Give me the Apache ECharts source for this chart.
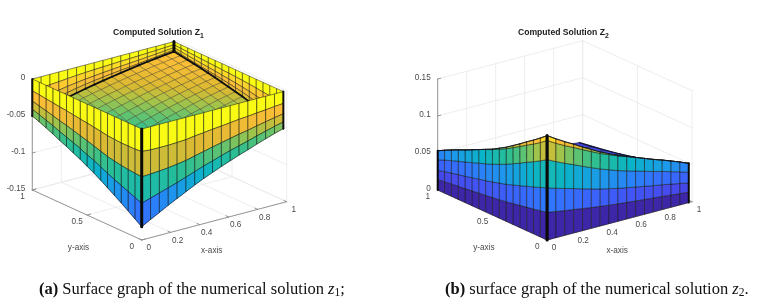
<!DOCTYPE html>
<html><head><meta charset="utf-8">
<style>html,body{margin:0;padding:0;background:#fff}#c{width:781px;height:306px}</style>
<script src="https://cdn.jsdelivr.net/npm/echarts@6/dist/echarts.min.js"></script>
</head><body><div id="c"></div>
<script>
// ---------- values ----------
const gridX=[0,.0611,.1221,.1832,.2443,.3053,.3664,.4274,.4885,.5496,.6106,.6717,.7328,.7938,.8549,.9159,.977];
const gridY=[0,.0625,.125,.1875,.25,.3125,.375,.4375,.5,.5625,.625,.6875,.75,.8125,.875,.9375,1];
const ticksX=[0,.2,.4,.6,.8,1];
const ticksY=[0,.5,1];
const ticksZ1=[-.15,-.1,-.05,0];
const ticksZ2=[0,.05,.1,.15];
const labelsX=['0','0.2','0.4','0.6','0.8','1'];
const labelsY=['0','0.5','1'];
const labelsZ1=['-0.15','-0.1','-0.05','0'];
const labelsZ2=['0','0.05','0.1','0.15'];

// z1: interior surface, symmetric, upper triangle, row i starts at column i
const z1Floor=[
[-.132,-.1255,-.119,-.1125,-.1065,-.1005,-.0945,-.089,-.084,-.079,-.0745,-.07,-.066,-.0615,-.0575,-.0535,-.05],
[-.1192,-.113,-.1066,-.1008,-.095,-.0897,-.0849,-.0801,-.0753,-.0705,-.0662,-.0619,-.0576,-.0538,-.0499,-.0467],
[-.1068,-.1007,-.0951,-.0896,-.0845,-.0799,-.0752,-.0707,-.066,-.0619,-.0579,-.0539,-.0502,-.0466,-.0435],
[-.0949,-.0896,-.0841,-.0794,-.0749,-.0705,-.0661,-.0617,-.0579,-.054,-.0501,-.0468,-.0433,-.0403],
[-.0844,-.0791,-.0746,-.0703,-.0661,-.0619,-.0578,-.0541,-.0504,-.0467,-.0435,-.0402,-.0375],
[-.0744,-.0699,-.0658,-.0618,-.0578,-.0539,-.0504,-.0469,-.0434,-.0403,-.0372,-.0347],
[-.0656,-.0618,-.0579,-.0541,-.0503,-.0469,-.0437,-.0404,-.0375,-.0346,-.0321],
[-.058,-.0543,-.0506,-.0471,-.0439,-.0407,-.0376,-.0348,-.0322,-.0298],
[-.0508,-.0473,-.044,-.0409,-.0379,-.0349,-.0324,-.0297,-.0275],
[-.044,-.0408,-.0379,-.0351,-.0324,-.0299,-.0274,-.0254],
[-.0378,-.0351,-.0324,-.0299,-.0275,-.0253,-.0233],
[-.0324,-.03,-.0276,-.0254,-.0233,-.0214],
[-.0276,-.0254,-.0233,-.0213,-.0196],
[-.0232,-.0213,-.0194,-.0178],
[-.0196,-.0178,-.0163],
[-.0162,-.0148],
[-.0135]];
// z1: levels of the mesh rows on the two front walls (rim = 0, bottom = floor edge)
const z1FrontR1=[-.0304,-.0314,-.0315,-.0315,-.0309,-.0302,-.0284,-.0271,-.0256,-.0245,-.0231,-.0217,-.0208,-.0194,-.0184,-.0171,-.016];
const z1FrontR2=[-.0647,-.064,-.0631,-.0619,-.0602,-.0583,-.0553,-.0525,-.0496,-.047,-.0443,-.0417,-.0396,-.0369,-.0345,-.0321,-.03];
const z1FrontR3=[-.1003,-.0966,-.0928,-.0889,-.0852,-.0809,-.0765,-.0721,-.0685,-.0644,-.0607,-.0574,-.0541,-.0504,-.0472,-.0439,-.041];
// z1: levels of the mesh rows on the two back walls
const z1BackR1=[-.016,-.015,-.0141,-.0131,-.012,-.011,-.0102,-.0095,-.0089,-.0083,-.0077,-.0072,-.0067,-.0061,-.0056,-.005,-.0043];
const z1BackR2=[-.03,-.0282,-.0264,-.0246,-.0225,-.0207,-.0192,-.0179,-.0167,-.0156,-.0145,-.0135,-.0126,-.0115,-.0105,-.0093,-.0081];
const z1BackR3=[-.041,-.0385,-.0361,-.0336,-.0308,-.0283,-.0262,-.0244,-.0228,-.0213,-.0198,-.0185,-.0172,-.0157,-.0144,-.0127,-.0111];
const rimZero=[0,0,0,0,0,0,0,0,0,0,0,0,0,0,0,0,0];

// z2: levels of the mesh rows on the two front walls
const z2WallR1=[.0374,.0354,.0335,.0318,.0299,.0282,.0265,.025,.0236,.0224,.0212,.02,.0188,.0178,.0166,.0154,.014];
const z2WallR2=[.0705,.0668,.0633,.06,.0565,.0533,.05,.0473,.0445,.0423,.04,.0378,.0355,.0335,.0313,.029,.0265];
const z2WallR3=[.1086,.1028,.0974,.0924,.087,.082,.077,.0728,.0685,.065,.0616,.0581,.0547,.0516,.0481,.0447,.0408];
const z2WallR4=[.1345,.1275,.1212,.1155,.1095,.1037,.098,.0932,.0883,.0843,.08,.0755,.071,.067,.0625,.058,.053];
const z2WallTop=[.141,.1335,.1265,.12,.113,.1065,.1,.0945,.089,.0845,.08,.0755,.071,.067,.0625,.058,.053];
// z2: cap over the walls, symmetric, every second mesh node, upper triangle
const z2Cap=[
[.141,.1265,.113,.1,.089,.08,.071,.0625,.053],
[.107,.095,.0845,.075,.066,.058,.05,.044],
[.084,.0746,.066,.058,.05,.0435,.0375],
[.0656,.058,.05,.0437,.0375,.032],
[.0508,.044,.038,.0324,.0275],
[.0378,.0324,.0275,.0233],
[.0276,.0233,.0196],
[.0196,.0163],
[.0135]];

// ---------- view ----------
const FONT='"Liberation Sans",Arial,sans-serif', SERIF='"Liberation Serif","Times New Roman",serif';
const EDGE='rgba(22,22,18,0.72)', EDGE_SOFT='rgba(50,45,20,0.5)';
const panelA={ox:141.7,oy:240,ex:[145,-38.3],ey:[-109.4,-50],zs:740,zRef:-.15,zTop:0,frac:z=>(z+.132)/.132};
const panelB={ox:547.1,oy:240,ex:[145,-38.3],ey:[-109.4,-50],zs:740,zRef:0,zTop:.15,frac:z=>z/.141};
const project=(p,x,y,z)=>[p.ox+x*p.ex[0]+y*p.ey[0],p.oy+x*p.ex[1]+y*p.ey[1]-(z-p.zRef)*p.zs];

const stops=[[0,62,38,168],[.12,70,75,240],[.25,50,115,255],[.35,28,152,235],[.45,10,180,200],[.55,40,190,150],[.65,100,195,110],[.72,170,195,70],[.78,220,185,50],[.88,254,190,55],[.95,250,225,35],[1,249,251,20]];
function parula(f){f=Math.max(0,Math.min(1,f));let k=0;while(k<stops.length-2&&f>stops[k+1][0])k++;
  const a=stops[k],b=stops[k+1],t=(f-a[0])/(b[0]-a[0]);
  return 'rgb('+[1,2,3].map(n=>Math.round(a[n]+(b[n]-a[n])*t)).join(',')+')';}

const tri=(m,i,j)=>{const a=Math.min(i,j),b=Math.max(i,j);return m[a][b-a];};
const floorZ=(i,j)=>tri(z1Floor,i,j);

function wallQuads(rows,pos){const out=[];
  for(let k=0;k<rows.length-1;k++)for(let i=0;i<16;i++){
    const a=pos(i),b=pos(i+1);
    out.push([a[0],a[1],rows[k][i],b[0],b[1],rows[k][i+1],b[0],b[1],rows[k+1][i+1],a[0],a[1],rows[k+1][i],(rows[k][i]+rows[k][i+1])/2]);}
  return out;}

function quadSeries(p,data,edge,lw){return{type:'custom',coordinateSystem:'cartesian2d',silent:true,animation:false,data,
  renderItem:(params,api)=>{const pts=[0,1,2,3].map(k=>api.coord(project(p,api.value(3*k),api.value(3*k+1),api.value(3*k+2))));
    return{type:'polygon',shape:{points:pts},style:{fill:parula(p.frac(api.value(12))),stroke:edge||EDGE,lineWidth:lw||.7}};}};}
function lineSeries(p,segs,color,width){return{type:'custom',coordinateSystem:'cartesian2d',silent:true,animation:false,data:segs,
  renderItem:(params,api)=>{const a=api.coord(project(p,api.value(0),api.value(1),api.value(2))),b=api.coord(project(p,api.value(3),api.value(4),api.value(5)));
    return{type:'line',shape:{x1:a[0],y1:a[1],x2:b[0],y2:b[1]},style:{stroke:color,lineWidth:width,lineCap:'round'}};}};}
function textSeries(p,items){return{type:'custom',coordinateSystem:'cartesian2d',silent:true,animation:false,data:items.map(t=>({value:[t.x,t.y,t.z,t.dx,t.dy],name:t.text})),
  renderItem:(params,api)=>{const a=api.coord(project(p,api.value(0),api.value(1),api.value(2))),it=items[params.dataIndex];
    return{type:'text',style:{text:it.text,x:a[0]+it.dx,y:a[1]+it.dy,font:'8.2px '+FONT,fill:'#4a4a4a',align:it.align||'center',verticalAlign:'middle'}};}};}

function frame(p,ticksZ,labelsZ){
  const zb=p.zRef,zt=p.zTop,g=[],ax=[];
  ticksX.forEach(x=>{g.push([x,1,zb,x,1,zt],[x,0,zb,x,1,zb]);});
  ticksY.forEach(y=>{g.push([1,y,zb,1,y,zt],[0,y,zb,1,y,zb]);});
  ticksZ.forEach(z=>{g.push([0,1,z,1,1,z],[1,0,z,1,1,z]);});
  ax.push([0,0,zb,1,0,zb],[0,0,zb,0,1,zb],[0,1,zb,0,1,zt]);
  ticksX.forEach(x=>ax.push([x,0,zb,x,.025,zb]));
  ticksY.forEach(y=>ax.push([0,y,zb,.025,y,zb]));
  ticksZ.forEach(z=>ax.push([0,1,z,.02,1,z]));
  const texts=[];
  ticksX.forEach((x,i)=>texts.push({text:labelsX[i],x,y:0,z:zb,dx:7,dy:8}));
  ticksY.forEach((y,i)=>texts.push({text:labelsY[i],x:0,y,z:zb,dx:-9.8,dy:6.8}));
  ticksZ.forEach((z,i)=>texts.push({text:labelsZ[i],x:0,y:1,z,dx:-7,dy:-1,align:'right'}));
  texts.push({text:'y-axis',x:0,y:.5,z:zb,dx:-8.5,dy:33},{text:'x-axis',x:.5,y:0,z:zb,dx:-2.5,dy:30});
  return[lineSeries(p,g,'#e8e8e8',.8),lineSeries(p,ax,'#8c8c8c',.9),textSeries(p,texts)];
}

// ---------- panel a ----------
const frontBottom=gridX.map((_,i)=>floorZ(0,i));
const backBottom=gridX.map((_,i)=>floorZ(i,16));
const rowsAFront=[rimZero,z1FrontR1,z1FrontR2,z1FrontR3,frontBottom];
const rowsABack=[rimZero,z1BackR1,z1BackR2,z1BackR3,backBottom];
const backA=[].concat(
  wallQuads(rowsABack,i=>[gridX[i],1]),
  wallQuads(rowsABack,i=>[gridX[16],gridY[i]]));
const floorA=[];
for(let s=30;s>=0;s--)for(let i=0;i<16;i++){const j=s-i;if(j<0||j>15)continue;
  floorA.push([gridX[i],gridY[j],floorZ(i,j),gridX[i+1],gridY[j],floorZ(i+1,j),gridX[i+1],gridY[j+1],floorZ(i+1,j+1),gridX[i],gridY[j+1],floorZ(i,j+1),(floorZ(i,j)+floorZ(i+1,j+1))/2]);}
const innerEdge=[];
for(let i=0;i<16;i++){innerEdge.push([gridX[i],1,floorZ(i,16),gridX[i+1],1,floorZ(i+1,16)],[gridX[16],gridY[i],floorZ(i,16),gridX[16],gridY[i+1],floorZ(i+1,16)]);}
const frontA=[].concat(
  wallQuads(rowsAFront,i=>[0,gridY[i]]),
  wallQuads(rowsAFront,i=>[gridX[i],0]));
const barsA3=[[0,0,0,0,0,floorZ(0,0)],[gridX[16],1,0,gridX[16],1,floorZ(16,16)]];
const barsA2=[[0,1,0,0,1,floorZ(0,16)],[gridX[16],0,0,gridX[16],0,floorZ(0,16)]];

// ---------- panel b ----------
const rowsB=[rimZero,z2WallR1,z2WallR2,z2WallR3,z2WallR4,z2WallTop];
const capB=[];
for(let s=14;s>=0;s--)for(let i=0;i<8;i++){const j=s-i;if(j<0||j>7)continue;
  const v=(a,b)=>tri(z2Cap,a,b);
  capB.push([gridX[2*i],gridY[2*j],v(i,j),gridX[2*i+2],gridY[2*j],v(i+1,j),gridX[2*i+2],gridY[2*j+2],v(i+1,j+1),gridX[2*i],gridY[2*j+2],v(i,j+1),v(i+1,j+1)]);}
const capEdge=[];
for(let i=0;i<8;i++)capEdge.push([gridX[16],gridY[2*i],tri(z2Cap,8,i),gridX[16],gridY[2*i+2],tri(z2Cap,8,i+1)]);
const frontB=[].concat(
  wallQuads(rowsB,i=>[0,gridY[i]]),
  wallQuads(rowsB,i=>[gridX[i],0]));
const barsB3=[[0,0,0,0,0,z2WallTop[0]]];
const barsB2=[[0,1,0,0,1,z2WallTop[16]],[gridX[16],0,0,gridX[16],0,z2WallTop[16]]];
const edge3=(arr,pos)=>{const o=[];for(let i=0;i<16;i++){const a=pos(i),b=pos(i+1);o.push([a[0],a[1],arr[i],b[0],b[1],arr[i+1]]);}return o;};
const topB=[].concat(edge3(z2WallTop,i=>[0,gridY[i]]),edge3(z2WallTop,i=>[gridX[i],0]));

const subTitle={fontSize:6.8,fontWeight:'bold',fontFamily:FONT,color:'#1c1c1c',verticalAlign:'bottom',lineHeight:14,padding:[6,0,0,0]};
const capRich={b:{fontFamily:SERIF,fontWeight:'bold',fontSize:16.5,color:'#111'},i:{fontFamily:SERIF,fontStyle:'italic',fontSize:16.5,color:'#111'},s:{fontFamily:SERIF,fontSize:11.5,color:'#111',verticalAlign:'bottom',padding:[6,0,0,0]}};
const titleStyle={fontSize:8.6,fontWeight:'bold',fontFamily:FONT,color:'#1c1c1c',rich:{s:subTitle}};
const capStyle={fontSize:16.5,fontWeight:'normal',fontFamily:SERIF,color:'#111',rich:capRich};

const option={
  animation:false,backgroundColor:'#fff',
  grid:{left:0,right:0,top:0,bottom:0},
  xAxis:{type:'value',min:0,max:781,show:false},
  yAxis:{type:'value',min:0,max:306,inverse:true,show:false},
  title:[
    {text:'Computed Solution Z{s|1}',left:113,top:26,textStyle:titleStyle,padding:0},
    {text:'Computed Solution Z{s|2}',left:518,top:26,textStyle:titleStyle,padding:0},
    {text:'{b|(a)} Surface graph of the numerical solution {i|z}{s|1};',left:39,top:281,textStyle:capStyle,padding:0},
    {text:'{b|(b)} surface graph of the numerical solution {i|z}{s|2}.',left:445,top:281,textStyle:capStyle,padding:0}
  ],
  series:[].concat(
    frame(panelA,ticksZ1,labelsZ1),
    [quadSeries(panelA,backA,EDGE,.65),quadSeries(panelA,floorA,EDGE_SOFT,.7),lineSeries(panelA,innerEdge,'#111',1.8),quadSeries(panelA,frontA),
     lineSeries(panelA,barsA3,'#0a0a0a',3),lineSeries(panelA,barsA2,'#111',2)],
    frame(panelB,ticksZ2,labelsZ2),
    [quadSeries(panelB,capB),lineSeries(panelB,capEdge,'#15153a',1.4),quadSeries(panelB,frontB),lineSeries(panelB,topB,'#14141e',.8),
     lineSeries(panelB,barsB3,'#0a0a0a',3.2),lineSeries(panelB,barsB2,'#0a0a0a',2)]
  )
};
const chart=echarts.init(document.getElementById('c'),null,{renderer:'canvas',width:781,height:306});
chart.setOption(option);
</script></body></html>
